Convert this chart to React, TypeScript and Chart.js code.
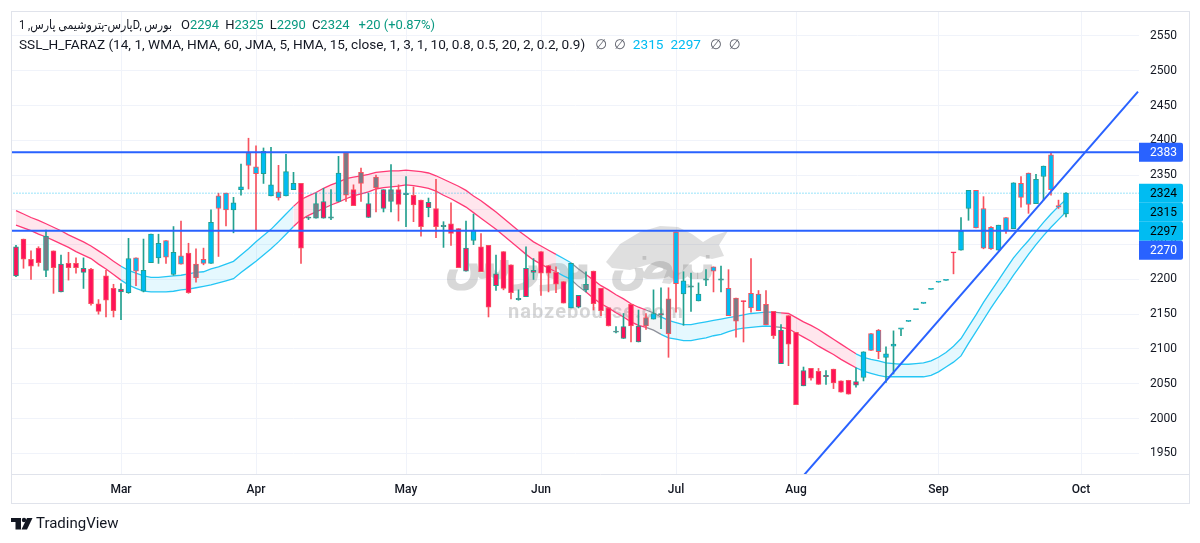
import React, { useEffect, useRef } from "react";
import { Chart, registerables } from "chart.js";

Chart.register(...registerables);

// ---------- data (daily candles, index based like TradingView) ----------
const opens = [
  2205, 2258, 2229, 2245, 2213, 2241, 2182, 2223, 2223, 2210,
  2215, 2165, 2205, 2187, 2182, 2181, 2231, 2183, 2224, 2231,
  2256, 2207, 2234, 2238, 2222, 2229, 2223, 2320, 2324, 2300,
  2329, 2382, 2362, 2352, 2320, 2326, 2320, 2329, 2338, 2288,
  2288, 2288, 2288, 2312, 2382, 2329, 2354, 2289, 2347, 2302,
  2312, 2329, 2322, 2321, 2314, 2303, 2302, 2276, 2280, 2273,
  2212, 2256, 2247, 2249, 2191, 2240, 2221, 2171, 2175, 2210,
  2240, 2220, 2210, 2197, 2159, 2160, 2185, 2212, 2187, 2159,
  2124, 2115, 2164, 2110, 2145, 2143, 2149, 2172, 2268, 2179,
  2189, 2169, 2199, 2218, 2199, 2187, 2173, 2169, 2180, 2179,
  2164, 2154, 2079, 2148, 2124, 2047, 2072, 2068, 2060, 2071,
  2054, 2055, 2048, 2059, 2122, 2127, 2088, 2104, 2128.5, 2139.5,
  2156.5, 2165.5, 2185.5, 2196, 2198.5, 2238.5, 2242, 2302, 2328, 2302,
  2275, 2242, 2289, 2273, 2338, 2353, 2309, 2348, 2379, 2306,
  2294,
];
const highs = [
  2249, 2258, 2241, 2247, 2271, 2241, 2235, 2239, 2231, 2231,
  2216, 2171, 2213, 2193, 2194, 2259, 2231, 2258, 2265, 2265,
  2256, 2276, 2284, 2252, 2244, 2245, 2300, 2324, 2324, 2318,
  2366, 2403, 2392, 2389, 2390, 2364, 2380, 2354, 2338, 2290,
  2324, 2331, 2329, 2377, 2382, 2336, 2360, 2324, 2350, 2329,
  2365, 2336, 2348, 2333, 2314, 2317, 2344, 2283, 2310, 2273,
  2284, 2294, 2266, 2249, 2235, 2240, 2221, 2185, 2247, 2230,
  2240, 2220, 2218, 2197, 2223, 2177, 2211, 2212, 2187, 2159,
  2132, 2151, 2164, 2156, 2151, 2185, 2188, 2188, 2268, 2211,
  2209, 2195, 2214, 2218, 2219, 2214, 2173, 2169, 2230, 2184,
  2184, 2154, 2135, 2148, 2124, 2074, 2072, 2072, 2069, 2071,
  2054, 2055, 2073, 2096, 2122, 2128, 2103, 2126, 2129, 2140,
  2157, 2166, 2186, 2196.5, 2199, 2238.5, 2289, 2328, 2328, 2319,
  2276, 2278, 2289, 2339, 2348, 2353, 2351, 2363, 2382, 2314,
  2325,
];
const lows = [
  2204, 2216, 2200, 2219, 2204, 2180, 2182, 2199, 2209, 2187,
  2163, 2150, 2146, 2146, 2142, 2180, 2191, 2182, 2224, 2223,
  2223, 2206, 2222, 2180, 2196, 2221, 2223, 2233, 2277, 2267,
  2321, 2330, 2271, 2338, 2320, 2314, 2320, 2329, 2223, 2286,
  2288, 2288, 2286, 2312, 2312, 2306, 2312, 2289, 2297, 2297,
  2297, 2284, 2276, 2283, 2262, 2290, 2260, 2246, 2249, 2217,
  2212, 2250, 2211, 2146, 2184, 2185, 2172, 2170, 2175, 2200,
  2177, 2182, 2181, 2166, 2159, 2159, 2182, 2156, 2148, 2133,
  2123, 2115, 2110, 2110, 2128, 2143, 2129, 2088, 2153, 2134,
  2154, 2169, 2191, 2182, 2182, 2148, 2117, 2110, 2153, 2155,
  2135, 2115, 2079, 2076, 2020, 2047, 2055, 2049, 2049, 2043,
  2038, 2035, 2045, 2054, 2098, 2086, 2052, 2064, 2119, 2139.5,
  2156.5, 2165.5, 2185.5, 2196, 2198.5, 2208, 2242, 2285, 2274, 2244,
  2243, 2242, 2266, 2273, 2304, 2295, 2309, 2314, 2321, 2302,
  2290,
];
const closes = [
  2247, 2229, 2219, 2224, 2262, 2217, 2222, 2217, 2217, 2216,
  2165, 2154, 2170, 2155, 2186, 2230, 2212, 2213, 2265, 2252,
  2232, 2239, 2222, 2181, 2202, 2223, 2282, 2302, 2300, 2310,
  2333, 2364, 2352, 2384, 2336, 2317, 2355, 2338, 2245, 2289,
  2309, 2312, 2290, 2353, 2321, 2306, 2338, 2309, 2332, 2329,
  2329, 2308, 2324, 2307, 2276, 2311, 2276, 2277, 2266, 2217,
  2245, 2271, 2211, 2160, 2208, 2187, 2181, 2172, 2216, 2213,
  2209, 2209, 2193, 2166, 2223, 2177, 2193, 2165, 2155, 2133,
  2125, 2132, 2133, 2133, 2133, 2151, 2151, 2122, 2194, 2198,
  2190, 2179, 2200, 2212, 2200, 2148, 2140, 2168, 2159, 2155,
  2135, 2119, 2127, 2107, 2020, 2069, 2058, 2049, 2062, 2051,
  2038, 2035, 2053, 2096, 2098, 2096, 2093, 2107, 2129, 2140,
  2157, 2166, 2186, 2196.5, 2199, 2238, 2269, 2328, 2274, 2245,
  2244, 2278, 2270, 2339, 2318, 2308, 2344, 2363, 2329, 2304,
  2324,
];
// body colour state of each candle: u = up trend (cyan), d = down trend (red), n = neutral (grey)
const bodyTrend = (
  "dddd" + "n" + "dddddddddd" + "uuuuuuuu" + "d" + "n" + "uuuuuuuuuuuuu" +
  "dnndnundndndndn" + "dddd" + "n" + "ddd" + "u" + "ddddd" + "n" + "dddddd" +
  "u" + "d" + "n" + "ddd" + "n" + "ddd" + "n" + "u" + "d" + "n" + "uu" + "n" +
  "u" + "n" + "u" + "n" + "u" + "n" + "d" + "uu" + "n" + "dddddddddddd" +
  "uuuuuuuuuuuu" + "d" + "uuuuuuuuuuuuuuu"
).split("");

// SSL channel (two lines + fill)
const bandUpper = [
  2299, 2294, 2289, 2285, 2280, 2275, 2270, 2264, 2259, 2254,
  2248, 2241, 2234, 2226, 2219, 2213, 2209, 2205, 2203, 2203,
  2204, 2205, 2206, 2208, 2210, 2211, 2215, 2218, 2222, 2226,
  2235, 2244, 2254, 2263, 2272, 2283, 2294, 2305, 2315, 2320,
  2325, 2331, 2336, 2340, 2345, 2347, 2349, 2351, 2354, 2355,
  2356, 2356, 2357, 2356, 2355, 2353, 2349, 2344, 2339, 2334,
  2328, 2320, 2313, 2305, 2297, 2288, 2279, 2270, 2262, 2254,
  2248, 2242, 2236, 2230, 2224, 2215, 2207, 2199, 2191, 2185,
  2178, 2172, 2165, 2160, 2156, 2152, 2146, 2141, 2138, 2135,
  2135, 2137, 2139, 2141, 2143, 2145, 2147, 2149, 2151, 2152,
  2153, 2153, 2152, 2151, 2145, 2139, 2134, 2128, 2121, 2114,
  2107, 2100, 2093, 2088, 2085, 2083, 2080, 2079, 2078, 2078,
  2079, 2080, 2083, 2088, 2095, 2104, 2115, 2132, 2149, 2167,
  2183, 2199, 2215, 2231, 2244, 2256, 2269, 2282, 2294, 2305,
  2315,
];
const bandLower = [
  2278, 2274, 2270, 2265, 2261, 2256, 2251, 2246, 2240, 2235,
  2230, 2222, 2215, 2207, 2199, 2192, 2187, 2183, 2182, 2182,
  2182, 2183, 2185, 2186, 2188, 2190, 2192, 2195, 2198, 2201,
  2210, 2218, 2226, 2235, 2244, 2254, 2265, 2276, 2286, 2292,
  2297, 2302, 2307, 2311, 2316, 2320, 2323, 2326, 2330, 2332,
  2333, 2334, 2336, 2335, 2333, 2331, 2327, 2321, 2316, 2310,
  2304, 2296, 2288, 2280, 2272, 2263, 2254, 2245, 2236, 2228,
  2222, 2216, 2211, 2205, 2200, 2190, 2182, 2173, 2165, 2159,
  2152, 2146, 2139, 2134, 2131, 2127, 2121, 2116, 2114, 2112,
  2112, 2114, 2116, 2119, 2121, 2125, 2128, 2130, 2131, 2132,
  2133, 2132, 2131, 2129, 2123, 2117, 2111, 2104, 2098, 2092,
  2085, 2079, 2073, 2068, 2065, 2062, 2060, 2060, 2060, 2060,
  2060, 2060, 2062, 2067, 2074, 2081, 2090, 2108, 2125, 2142,
  2159, 2175, 2190, 2206, 2221, 2236, 2250, 2263, 2275, 2286,
  2297,
];
const bandTrend = (
  "d".repeat(15) + "u".repeat(23) + "d".repeat(35) + "uu" + "nn" +
  "d".repeat(8) + "nn" + "u".repeat(15) + "n" + "d".repeat(10) + "u".repeat(28)
).split("");

// drawings
const levelHigh = 2383;
const levelLow = 2270;
const trendX = [100, 149.6];
const trendY = [1856, 2470];

// axes
const monthTicks = [14, 32, 52, 70, 88, 104, 123, 142];
const monthLabels = ["Mar", "Apr", "May", "Jun", "Jul", "Aug", "Sep", "Oct"];
const priceTicks = [1950, 2000, 2050, 2100, 2150, 2200, 2250, 2300, 2350, 2400, 2450, 2500, 2550];
const xMin = -0.5333;
const xMax = 149.733;
const yMin = 1920.2;
const yMax = 2584.5;

const symbolTitle = "پارس-پتروشیمی پارس, 1D, بورس";
const indicatorTitle = "SSL_H_FARAZ (14, 1, WMA, HMA, 60, JMA, 5, HMA, 15, close, 1, 3, 1, 10, 0.8, 0.5, 20, 2, 0.2, 0.9)";

// ---------- styles ----------
const CYAN = "#00BCF2";
const RED = "#FF1159";
const GREY = "#787B86";
const UP_C = "#22A08F";
const DOWN_C = "#F7525F";
const BLUE = "#2962FF";
const GRID = "#F0F3FA";
const TEXT = "#131722";
const FONT = "Roboto, 'Noto Sans', 'DejaVu Sans', sans-serif";

const bandLine: Record<string, string> = { u: "#25C6F5", d: "#FF3A76", n: "#8E919B" };
const bandFill: Record<string, string> = {
  u: "rgba(0, 188, 242, 0.10)",
  d: "rgba(255, 58, 118, 0.13)",
  n: "rgba(142, 145, 155, 0.10)",
};
const bodyFill: Record<string, string> = { u: CYAN, d: RED, n: GREY };

export default function App() {
  const ref = useRef<HTMLCanvasElement>(null);

  useEffect(() => {
    const canvas = ref.current;
    if (!canvas) return;
    const last = closes.length - 1;
    const idx = closes.map((_, i) => i);
    const isUp = (i: number) => closes[i] >= opens[i];

    const watermark = {
      id: "watermark",
      beforeDatasetsDraw(chart: any) {
        const ctx = chart.ctx;
        ctx.save();
        // bull silhouette of the watermark
        ctx.fillStyle = "rgba(110,110,110,0.22)";
        ctx.beginPath();
        const bull = [
          [606, 262], [620, 244], [640, 232], [660, 226], [678, 227], [692, 234],
          [703, 242], [713, 236], [728, 231], [719, 245], [724, 256], [712, 259],
          [700, 256], [690, 263], [681, 273], [670, 284], [662, 283], [667, 270],
          [650, 264], [630, 270], [612, 268],
        ];
        bull.forEach(([x, y], k) => (k === 0 ? ctx.moveTo(x, y) : ctx.lineTo(x, y)));
        ctx.closePath();
        ctx.fill();
        ctx.textAlign = "center";
        ctx.textBaseline = "middle";
        ctx.fillStyle = "rgba(110,110,110,0.27)";
        ctx.font = "bold 50px 'DejaVu Sans', sans-serif";
        ctx.fillText("نبض بورس", 580, 266);
        ctx.fillStyle = "rgba(120,120,120,0.30)";
        ctx.font = "bold 20px " + FONT;
        (ctx as any).letterSpacing = "1px";
        ctx.fillText("nabzebourse.com", 596, 313);
        ctx.restore();
      },
    };

    const overlay = {
      id: "overlay",
      afterDraw(chart: any) {
        const ctx: CanvasRenderingContext2D = chart.ctx;
        const ys = chart.scales.y;
        ctx.save();
        // frame
        ctx.strokeStyle = "#E0E3EB";
        ctx.lineWidth = 1;
        ctx.strokeRect(11.5, 11.5, 1178, 492);
        ctx.beginPath();
        ctx.moveTo(11.5, 474.5);
        ctx.lineTo(1189.5, 474.5);
        ctx.stroke();

        // price labels on the axis
        const boxes = [
          { v: levelHigh, bg: BLUE, fg: "#FFFFFF" },
          { v: closes[last], bg: CYAN, fg: "#000000" },
          { v: bandUpper[last], bg: CYAN, fg: "#000000" },
          { v: bandLower[last], bg: CYAN, fg: "#000000" },
          { v: levelLow, bg: BLUE, fg: "#FFFFFF" },
        ].sort((a, b) => b.v - a.v);
        let prevBottom = -1e9;
        ctx.font = "12px " + FONT;
        ctx.textBaseline = "middle";
        ctx.textAlign = "left";
        for (const b of boxes) {
          const yc = ys.getPixelForValue(b.v);
          const top = Math.max(yc - 9.5, prevBottom);
          ctx.fillStyle = b.bg;
          ctx.beginPath();
          (ctx as any).roundRect(1139, top, 44, 19, [0, 2, 2, 0]);
          ctx.fill();
          ctx.fillStyle = b.fg;
          ctx.fillText(String(Math.round(b.v)), 1150, top + 10);
          prevBottom = top + 19;
        }

        // legend
        const seq = (parts: [string, string, number][], x0: number, y: number) => {
          let x = x0;
          for (const [t, c, gap] of parts) {
            ctx.fillStyle = c;
            ctx.fillText(t, x, y);
            x += ctx.measureText(t).width + gap;
          }
        };
        ctx.direction = "ltr";
        ctx.font = "12.5px " + FONT;
        ctx.fillStyle = TEXT;
        const tw = ctx.measureText(symbolTitle).width;
        const sx = Math.min(1, 153 / tw);
        ctx.save();
        ctx.translate(19, 26);
        ctx.scale(sx, 1);
        ctx.fillText(symbolTitle, 0, 0);
        ctx.restore();
        ctx.font = "13px " + FONT;
        const chg = closes[last] - closes[last - 1];
        const pct = (chg / closes[last - 1]) * 100;
        const VAL = "#089981";
        seq(
          [
            ["O", TEXT, 0], [String(opens[last]), VAL, 6],
            ["H", TEXT, 0], [String(highs[last]), VAL, 6],
            ["L", TEXT, 0], [String(lows[last]), VAL, 6],
            ["C", TEXT, 0], [String(closes[last]), VAL, 9],
            [(chg >= 0 ? "+" : "") + chg + " (" + (chg >= 0 ? "+" : "") + pct.toFixed(2) + "%)", VAL, 0],
          ],
          181, 26
        );
        ctx.font = "13.6px " + FONT;
        const NA = "#5D606B";
        seq(
          [
            [indicatorTitle, TEXT, 10],
            ["∅", NA, 7], ["∅", NA, 7],
            [String(bandUpper[last]), CYAN, 7],
            [String(bandLower[last]), CYAN, 9],
            ["∅", NA, 7], ["∅", NA, 0],
          ],
          19, 46
        );

        // TradingView logo
        ctx.fillStyle = TEXT;
        ctx.fillRect(11, 518, 10, 4);
        ctx.fillRect(15.5, 518, 5.5, 11.5);
        ctx.beginPath();
        ctx.arc(24, 520, 2.2, 0, Math.PI * 2);
        ctx.fill();
        ctx.beginPath();
        ctx.moveTo(27, 518);
        ctx.lineTo(32.5, 518);
        ctx.lineTo(27, 529.5);
        ctx.lineTo(21.5, 529.5);
        ctx.closePath();
        ctx.fill();
        ctx.font = "15px " + FONT;
        ctx.fillText("TradingView", 36, 524.5);
        ctx.restore();
      },
    };

    const hline = (v: number) => [
      { x: xMin - 5, y: v },
      { x: xMax + 5, y: v },
    ];

    const chart = new Chart(canvas, {
      type: "bar",
      data: {
        datasets: [
          {
            type: "line",
            label: "sslUpper",
            data: idx.map((i) => ({ x: i, y: bandUpper[i] })),
            borderWidth: 1.3,
            pointRadius: 0,
            fill: "+1",
            tension: 0,
            order: 20,
            segment: {
              borderColor: (c: any) => bandLine[bandTrend[c.p1DataIndex]],
              backgroundColor: (c: any) => bandFill[bandTrend[c.p1DataIndex]],
            },
          } as any,
          {
            type: "line",
            label: "sslLower",
            data: idx.map((i) => ({ x: i, y: bandLower[i] })),
            borderWidth: 1.3,
            pointRadius: 0,
            fill: false,
            tension: 0,
            order: 19,
            segment: {
              borderColor: (c: any) => bandLine[bandTrend[c.p1DataIndex]],
            },
          } as any,
          {
            type: "bar",
            label: "wicks",
            data: idx.map((i) => ({ x: i, y: [lows[i], highs[i]] })),
            backgroundColor: idx.map((i) => (isUp(i) ? UP_C : DOWN_C)),
            borderWidth: 0,
            barThickness: 1,
            grouped: false,
            order: 10,
          } as any,
          {
            type: "bar",
            label: "bodies",
            data: idx.map((i) => ({ x: i, y: [opens[i], closes[i]] })),
            backgroundColor: idx.map((i) => bodyFill[bodyTrend[i]]),
            borderColor: idx.map((i) => (isUp(i) ? UP_C : DOWN_C)),
            borderWidth: 1,
            borderSkipped: false,
            barThickness: 5,
            minBarLength: 1.2,
            grouped: false,
            order: 9,
          } as any,
          {
            type: "line",
            label: "lastPrice",
            data: hline(closes[last]),
            borderColor: "rgba(0,188,242,0.8)",
            borderWidth: 1,
            borderDash: [1, 2],
            pointRadius: 0,
            clip: 0,
            order: 5,
          } as any,
          {
            type: "line",
            label: "resistance",
            data: hline(levelHigh),
            borderColor: BLUE,
            borderWidth: 2,
            pointRadius: 0,
            clip: 0,
            order: 3,
          } as any,
          {
            type: "line",
            label: "support",
            data: hline(levelLow),
            borderColor: BLUE,
            borderWidth: 2,
            pointRadius: 0,
            clip: 0,
            order: 3,
          } as any,
          {
            type: "line",
            label: "trend",
            data: trendX.map((x, k) => ({ x, y: trendY[k] })),
            borderColor: BLUE,
            borderWidth: 2,
            pointRadius: 0,
            clip: 0,
            order: 2,
          } as any,
        ],
      },
      options: {
        responsive: false,
        animation: false,
        devicePixelRatio: 1,
        events: [],
        layout: { padding: { left: 12, top: 12, right: 11, bottom: 40 }, autoPadding: false } as any,
        plugins: { legend: { display: false }, tooltip: { enabled: false } },
        scales: {
          x: {
            type: "linear",
            min: xMin,
            max: xMax,
            offset: false,
            grid: { color: GRID, drawTicks: false, offset: false },
            border: { display: false },
            ticks: {
              autoSkip: false,
              maxRotation: 0,
              padding: 9,
              color: TEXT,
              font: { family: FONT, size: 12, weight: 500 as any },
              callback: (v: any) => monthLabels[monthTicks.indexOf(Number(v))] ?? "",
            },
            afterBuildTicks: (s: any) => {
              s.ticks = monthTicks.map((v) => ({ value: v }));
            },
            afterFit: (s: any) => {
              s.height = 29;
              s.paddingLeft = 0;
              s.paddingRight = 0;
              s.paddingTop = 0;
              s.paddingBottom = 0;
            },
          } as any,
          y: {
            type: "linear",
            position: "right",
            min: yMin,
            max: yMax,
            grid: { color: GRID, drawTicks: false },
            border: { display: false },
            ticks: {
              padding: 11,
              crossAlign: "near",
              color: TEXT,
              font: { family: FONT, size: 12 },
              callback: (v: any) => String(v),
            },
            afterBuildTicks: (s: any) => {
              s.ticks = priceTicks.map((v) => ({ value: v }));
            },
            afterFit: (s: any) => {
              s.width = 50;
              s.paddingTop = 0;
              s.paddingBottom = 0;
              s.paddingLeft = 0;
              s.paddingRight = 0;
            },
          } as any,
        },
      },
      plugins: [watermark, overlay],
    } as any);

    return () => chart.destroy();
  }, []);

  return (
    <div style={{ position: "fixed", left: 0, top: 0, width: 1200, height: 543, background: "#FFFFFF" }}>
      <canvas ref={ref} width={1200} height={543} style={{ display: "block", width: 1200, height: 543 }} />
    </div>
  );
}
